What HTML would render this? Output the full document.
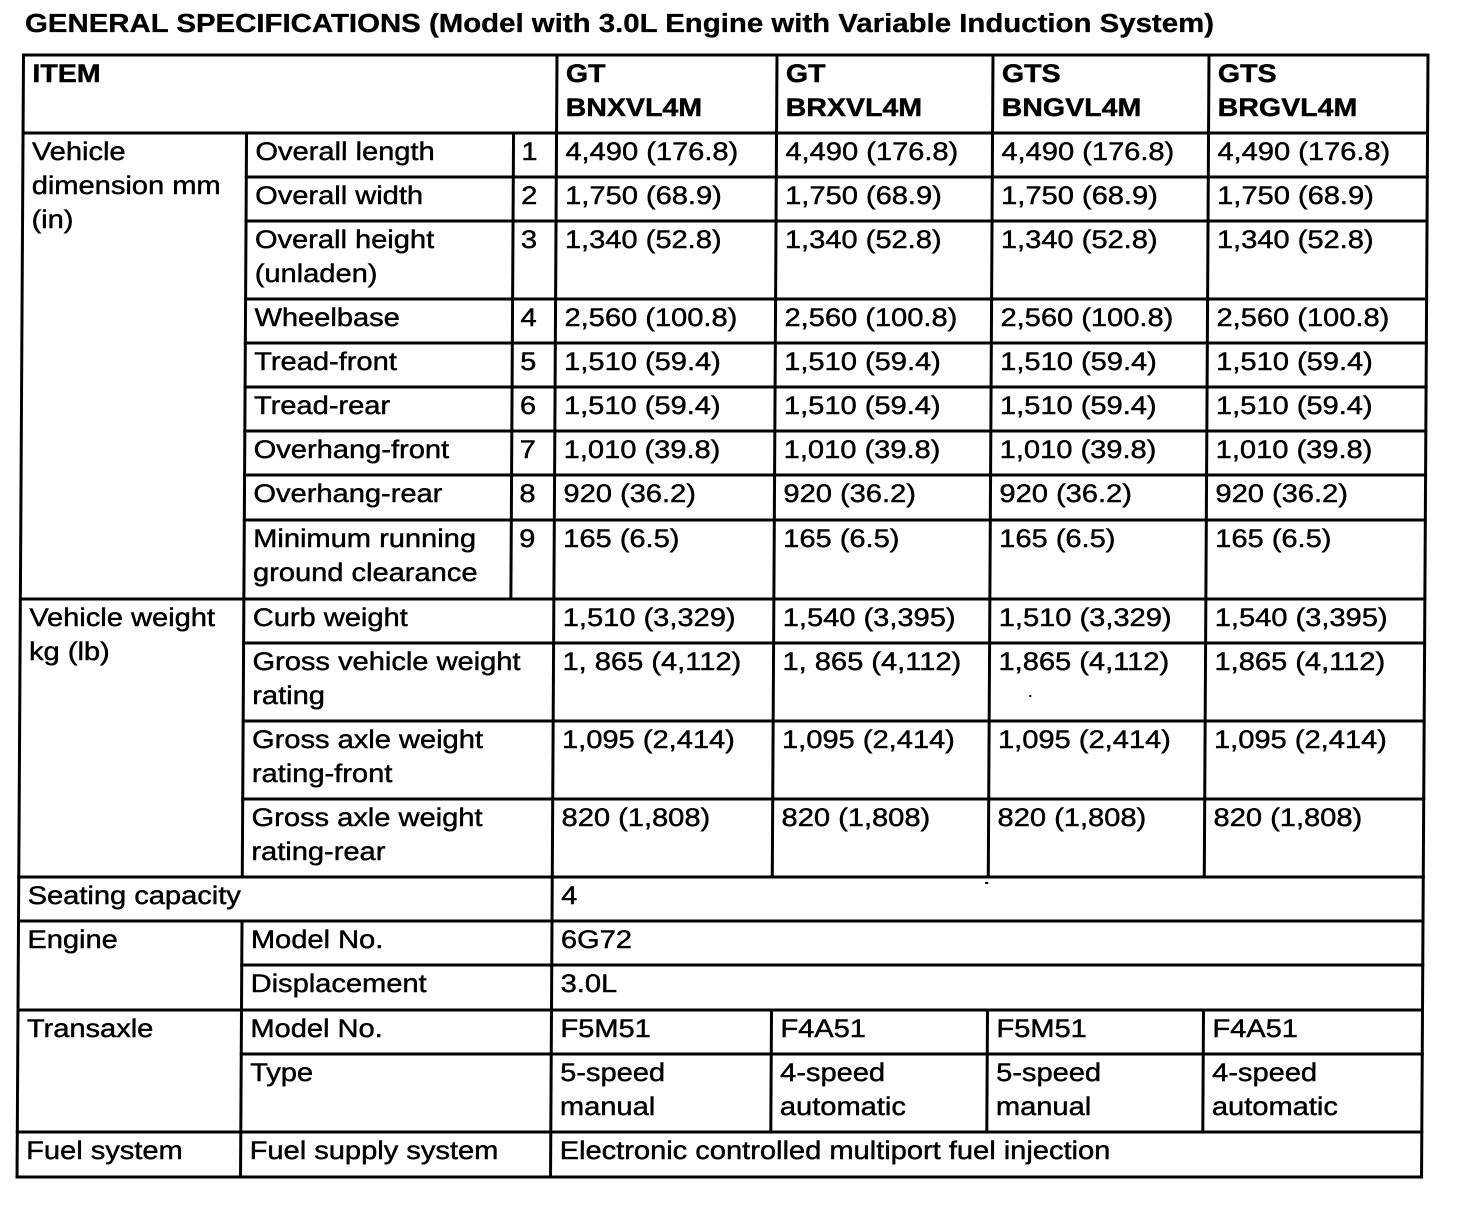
<!DOCTYPE html>
<html>
<head>
<meta charset="utf-8">
<style>
html,body{margin:0;padding:0;background:#fff;}
svg{display:block;}
text{font-family:"Liberation Sans",Arial,sans-serif;font-size:25.5px;fill:#000;}
.tx text{stroke:#000;stroke-width:0.45px;}
.b{font-weight:bold;}
</style>
</head>
<body>
<svg width="1472" height="1222" viewBox="0 0 1472 1222" xmlns="http://www.w3.org/2000/svg">
<rect width="1472" height="1222" fill="#fff"/>
<text class="b" x="25" y="32" textLength="1189" lengthAdjust="spacingAndGlyphs" style="stroke:#000;stroke-width:0.3px">GENERAL SPECIFICATIONS (Model with 3.0L Engine with Variable Induction System)</text>

<g transform="translate(0,55) skewX(-0.33) translate(0,-55)">
<g stroke="#000" stroke-width="3" stroke-linecap="square" fill="none">
<line x1="23.5" y1="55" x2="1428" y2="55"/>
<line x1="23.5" y1="133" x2="1428" y2="133"/>
<line x1="23.5" y1="599" x2="1428" y2="599"/>
<line x1="23.5" y1="877" x2="1428" y2="877"/>
<line x1="23.5" y1="921" x2="1428" y2="921"/>
<line x1="23.5" y1="1010" x2="1428" y2="1010"/>
<line x1="23.5" y1="1132" x2="1428" y2="1132"/>
<line x1="23.5" y1="1177" x2="1428" y2="1177"/>
<line x1="247" y1="177" x2="1428" y2="177"/>
<line x1="247" y1="221" x2="1428" y2="221"/>
<line x1="247" y1="299" x2="1428" y2="299"/>
<line x1="247" y1="343" x2="1428" y2="343"/>
<line x1="247" y1="387" x2="1428" y2="387"/>
<line x1="247" y1="431" x2="1428" y2="431"/>
<line x1="247" y1="475" x2="1428" y2="475"/>
<line x1="247" y1="520" x2="1428" y2="520"/>
<line x1="247" y1="643" x2="1428" y2="643"/>
<line x1="247" y1="721" x2="1428" y2="721"/>
<line x1="247" y1="799" x2="1428" y2="799"/>
<line x1="247" y1="965" x2="1428" y2="965"/>
<line x1="247" y1="1054" x2="1428" y2="1054"/>
<line x1="23.5" y1="55" x2="23.5" y2="1177"/>
<line x1="1428" y1="55" x2="1428" y2="1177"/>
<line x1="557" y1="55" x2="557" y2="1177"/>
<line x1="247" y1="133" x2="247" y2="877"/>
<line x1="247" y1="921" x2="247" y2="1177"/>
<line x1="514" y1="133" x2="514" y2="599"/>
<line x1="777" y1="55" x2="777" y2="877"/>
<line x1="993" y1="55" x2="993" y2="877"/>
<line x1="1209" y1="55" x2="1209" y2="877"/>
<line x1="777" y1="1010" x2="777" y2="1132"/>
<line x1="993" y1="1010" x2="993" y2="1132"/>
<line x1="1209" y1="1010" x2="1209" y2="1132"/>
</g>

<g class="tx" transform="translate(0,2)">
<text class="b" transform="translate(32.5 80) scale(1.12 1)">ITEM</text>
<text class="b" transform="translate(566 80) scale(1.12 1)">GT</text>
<text class="b" transform="translate(566 114) scale(1.12 1)">BNXVL4M</text>
<text class="b" transform="translate(786 80) scale(1.12 1)">GT</text>
<text class="b" transform="translate(786 114) scale(1.12 1)">BRXVL4M</text>
<text class="b" transform="translate(1002 80) scale(1.12 1)">GTS</text>
<text class="b" transform="translate(1002 114) scale(1.12 1)">BNGVL4M</text>
<text class="b" transform="translate(1218 80) scale(1.12 1)">GTS</text>
<text class="b" transform="translate(1218 114) scale(1.12 1)">BRGVL4M</text>

<text transform="translate(32.5 158) scale(1.14 1)">Vehicle</text>
<text transform="translate(32.5 192) scale(1.14 1)">dimension mm</text>
<text transform="translate(32.5 226) scale(1.14 1)">(in)</text>

<text transform="translate(256 158) scale(1.14 1)">Overall length</text>
<text transform="translate(522 158) scale(1.14 1)">1</text>
<text transform="translate(566 158) scale(1.14 1)">4,490 (176.8)</text>
<text transform="translate(786 158) scale(1.14 1)">4,490 (176.8)</text>
<text transform="translate(1002 158) scale(1.14 1)">4,490 (176.8)</text>
<text transform="translate(1218 158) scale(1.14 1)">4,490 (176.8)</text>

<text transform="translate(256 202) scale(1.14 1)">Overall width</text>
<text transform="translate(522 202) scale(1.14 1)">2</text>
<text transform="translate(566 202) scale(1.14 1)">1,750 (68.9)</text>
<text transform="translate(786 202) scale(1.14 1)">1,750 (68.9)</text>
<text transform="translate(1002 202) scale(1.14 1)">1,750 (68.9)</text>
<text transform="translate(1218 202) scale(1.14 1)">1,750 (68.9)</text>

<text transform="translate(256 246) scale(1.14 1)">Overall height</text>
<text transform="translate(256 280) scale(1.14 1)">(unladen)</text>
<text transform="translate(522 246) scale(1.14 1)">3</text>
<text transform="translate(566 246) scale(1.14 1)">1,340 (52.8)</text>
<text transform="translate(786 246) scale(1.14 1)">1,340 (52.8)</text>
<text transform="translate(1002 246) scale(1.14 1)">1,340 (52.8)</text>
<text transform="translate(1218 246) scale(1.14 1)">1,340 (52.8)</text>

<text transform="translate(256 324) scale(1.14 1)">Wheelbase</text>
<text transform="translate(522 324) scale(1.14 1)">4</text>
<text transform="translate(566 324) scale(1.14 1)">2,560 (100.8)</text>
<text transform="translate(786 324) scale(1.14 1)">2,560 (100.8)</text>
<text transform="translate(1002 324) scale(1.14 1)">2,560 (100.8)</text>
<text transform="translate(1218 324) scale(1.14 1)">2,560 (100.8)</text>

<text transform="translate(256 368) scale(1.14 1)">Tread-front</text>
<text transform="translate(522 368) scale(1.14 1)">5</text>
<text transform="translate(566 368) scale(1.14 1)">1,510 (59.4)</text>
<text transform="translate(786 368) scale(1.14 1)">1,510 (59.4)</text>
<text transform="translate(1002 368) scale(1.14 1)">1,510 (59.4)</text>
<text transform="translate(1218 368) scale(1.14 1)">1,510 (59.4)</text>

<text transform="translate(256 412) scale(1.14 1)">Tread-rear</text>
<text transform="translate(522 412) scale(1.14 1)">6</text>
<text transform="translate(566 412) scale(1.14 1)">1,510 (59.4)</text>
<text transform="translate(786 412) scale(1.14 1)">1,510 (59.4)</text>
<text transform="translate(1002 412) scale(1.14 1)">1,510 (59.4)</text>
<text transform="translate(1218 412) scale(1.14 1)">1,510 (59.4)</text>

<text transform="translate(256 456) scale(1.14 1)">Overhang-front</text>
<text transform="translate(522 456) scale(1.14 1)">7</text>
<text transform="translate(566 456) scale(1.14 1)">1,010 (39.8)</text>
<text transform="translate(786 456) scale(1.14 1)">1,010 (39.8)</text>
<text transform="translate(1002 456) scale(1.14 1)">1,010 (39.8)</text>
<text transform="translate(1218 456) scale(1.14 1)">1,010 (39.8)</text>

<text transform="translate(256 500) scale(1.14 1)">Overhang-rear</text>
<text transform="translate(522 500) scale(1.14 1)">8</text>
<text transform="translate(566 500) scale(1.14 1)">920 (36.2)</text>
<text transform="translate(786 500) scale(1.14 1)">920 (36.2)</text>
<text transform="translate(1002 500) scale(1.14 1)">920 (36.2)</text>
<text transform="translate(1218 500) scale(1.14 1)">920 (36.2)</text>

<text transform="translate(256 545) scale(1.14 1)">Minimum running</text>
<text transform="translate(256 579) scale(1.14 1)">ground clearance</text>
<text transform="translate(522 545) scale(1.14 1)">9</text>
<text transform="translate(566 545) scale(1.14 1)">165 (6.5)</text>
<text transform="translate(786 545) scale(1.14 1)">165 (6.5)</text>
<text transform="translate(1002 545) scale(1.14 1)">165 (6.5)</text>
<text transform="translate(1218 545) scale(1.14 1)">165 (6.5)</text>

<text transform="translate(32.5 624) scale(1.14 1)">Vehicle weight</text>
<text transform="translate(32.5 658) scale(1.14 1)">kg (lb)</text>

<text transform="translate(256 624) scale(1.14 1)">Curb weight</text>
<text transform="translate(566 624) scale(1.14 1)">1,510 (3,329)</text>
<text transform="translate(786 624) scale(1.14 1)">1,540 (3,395)</text>
<text transform="translate(1002 624) scale(1.14 1)">1,510 (3,329)</text>
<text transform="translate(1218 624) scale(1.14 1)">1,540 (3,395)</text>

<text transform="translate(256 668) scale(1.14 1)">Gross vehicle weight</text>
<text transform="translate(256 702) scale(1.14 1)">rating</text>
<text transform="translate(566 668) scale(1.14 1)">1, 865 (4,112)</text>
<text transform="translate(786 668) scale(1.14 1)">1, 865 (4,112)</text>
<text transform="translate(1002 668) scale(1.14 1)">1,865 (4,112)</text>
<text transform="translate(1218 668) scale(1.14 1)">1,865 (4,112)</text>

<text transform="translate(256 746) scale(1.14 1)">Gross axle weight</text>
<text transform="translate(256 780) scale(1.14 1)">rating-front</text>
<text transform="translate(566 746) scale(1.14 1)">1,095 (2,414)</text>
<text transform="translate(786 746) scale(1.14 1)">1,095 (2,414)</text>
<text transform="translate(1002 746) scale(1.14 1)">1,095 (2,414)</text>
<text transform="translate(1218 746) scale(1.14 1)">1,095 (2,414)</text>

<text transform="translate(256 824) scale(1.14 1)">Gross axle weight</text>
<text transform="translate(256 858) scale(1.14 1)">rating-rear</text>
<text transform="translate(566 824) scale(1.14 1)">820 (1,808)</text>
<text transform="translate(786 824) scale(1.14 1)">820 (1,808)</text>
<text transform="translate(1002 824) scale(1.14 1)">820 (1,808)</text>
<text transform="translate(1218 824) scale(1.14 1)">820 (1,808)</text>

<text transform="translate(32.5 902) scale(1.14 1)">Seating capacity</text>
<text transform="translate(566 902) scale(1.14 1)">4</text>

<text transform="translate(32.5 946) scale(1.14 1)">Engine</text>
<text transform="translate(256 946) scale(1.14 1)">Model No.</text>
<text transform="translate(566 946) scale(1.14 1)">6G72</text>
<text transform="translate(256 990) scale(1.14 1)">Displacement</text>
<text transform="translate(566 990) scale(1.14 1)">3.0L</text>

<text transform="translate(32.5 1035) scale(1.14 1)">Transaxle</text>
<text transform="translate(256 1035) scale(1.14 1)">Model No.</text>
<text transform="translate(566 1035) scale(1.14 1)">F5M51</text>
<text transform="translate(786 1035) scale(1.14 1)">F4A51</text>
<text transform="translate(1002 1035) scale(1.14 1)">F5M51</text>
<text transform="translate(1218 1035) scale(1.14 1)">F4A51</text>

<text transform="translate(256 1079) scale(1.14 1)">Type</text>
<text transform="translate(566 1079) scale(1.14 1)">5-speed</text>
<text transform="translate(566 1113) scale(1.14 1)">manual</text>
<text transform="translate(786 1079) scale(1.14 1)">4-speed</text>
<text transform="translate(786 1113) scale(1.14 1)">automatic</text>
<text transform="translate(1002 1079) scale(1.14 1)">5-speed</text>
<text transform="translate(1002 1113) scale(1.14 1)">manual</text>
<text transform="translate(1218 1079) scale(1.14 1)">4-speed</text>
<text transform="translate(1218 1113) scale(1.14 1)">automatic</text>

<text transform="translate(32.5 1157) scale(1.14 1)">Fuel system</text>
<text transform="translate(256 1157) scale(1.14 1)">Fuel supply system</text>
<text transform="translate(566 1157) scale(1.14 1)">Electronic controlled multiport fuel injection</text>
</g>

<rect x="1033" y="695" width="2" height="2" fill="#000"/>
<rect x="990" y="882" width="3" height="2" fill="#000"/>
</g>
</svg>
</body>
</html>
